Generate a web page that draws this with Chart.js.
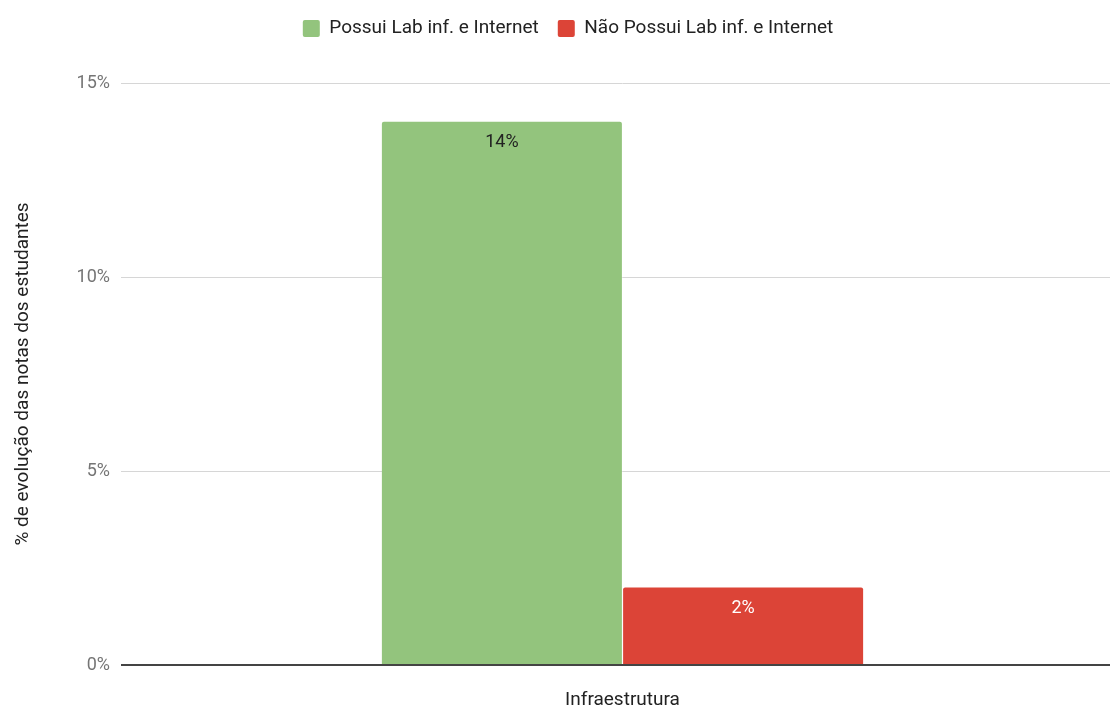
<!DOCTYPE html>
<html>
<head>
<meta charset="utf-8">
<script src="https://cdn.jsdelivr.net/npm/chart.js@4"></script>
<style>
  html, body { margin: 0; padding: 0; background: #fff; overflow: hidden; }
  #wrap { width: 1124px; height: 706px; }
</style>
</head>
<body>
<div id="wrap"><canvas id="evolucaoChart"></canvas></div>
<script>
const categorias = ['Infraestrutura'];
const seriesNomes = ['Possui Lab inf. e Internet', 'Não Possui Lab inf. e Internet'];
const possuiValores = [14];
const naoPossuiValores = [2];
const yTicks = [0, 5, 10, 15];

Chart.defaults.font.family = 'Roboto, "Noto Sans", sans-serif';

// rótulos de valor dentro do topo de cada barra
const rotulosBarras = {
    id: 'rotulosBarras',
    afterDatasetsDraw(chart) {
        const ctx = chart.ctx;
        ctx.save();
        ctx.font = '18px Roboto';
        ctx.textAlign = 'center';
        ctx.textBaseline = 'middle';
        chart.data.datasets.forEach((ds, i) => {
            chart.getDatasetMeta(i).data.forEach((bar, j) => {
                ctx.fillStyle = ds.labelColor;
                ctx.fillText(ds.data[j] + '%', bar.x, bar.y + 21);
            });
        });
        ctx.restore();
    }
};

// espaço extra entre a legenda e a área do gráfico
const margemLegenda = {
    id: 'margemLegenda',
    beforeInit(chart) {
        const fitOriginal = chart.legend.fit;
        chart.legend.fit = function () {
            fitOriginal.bind(chart.legend)();
            this.height += 35;
        };
    }
};

const ctx = document.getElementById('evolucaoChart').getContext('2d');
new Chart(ctx, {
    type: 'bar',
    data: {
        labels: categorias,
        datasets: [
            { label: seriesNomes[0], data: possuiValores, backgroundColor: '#93c47d', labelColor: '#222', borderRadius: { topLeft: 2, topRight: 2 }, borderSkipped: 'bottom' },
            { label: seriesNomes[1], data: naoPossuiValores, backgroundColor: '#dc4437', labelColor: '#fff', borderRadius: { topLeft: 2, topRight: 2 }, borderSkipped: 'bottom' }
        ]
    },
    options: {
        responsive: true,
        maintainAspectRatio: false,
        animation: false,
        layout: { padding: { top: 0, left: 12, right: 0, bottom: 0 } },
        datasets: { bar: { categoryPercentage: 0.481, barPercentage: 0.995 } },
        plugins: {
            legend: {
                position: 'top',
                labels: { color: '#222', font: { size: 19 }, boxWidth: 17, boxHeight: 17, useBorderRadius: true, borderRadius: 2, padding: 19 }
            },
            tooltip: { enabled: false }
        },
        scales: {
            x: {
                grid: { display: false },
                border: { display: false },
                ticks: { color: '#222', font: { size: 19 }, padding: 16 },
                afterFit: s => { s.height = 41; }
            },
            y: {
                min: 0,
                max: 15,
                afterBuildTicks: s => { s.ticks = yTicks.map(v => ({ value: v })); },
                ticks: { color: '#757575', font: { size: 18 }, padding: 11, callback: v => v + '%' },
                grid: {
                    drawTicks: false,
                    color: c => c.tick && c.tick.value === 0 ? '#444' : '#d6d6d6',
                    lineWidth: c => c.tick && c.tick.value === 0 ? 2 : 1
                },
                border: { display: false },
                title: { display: true, text: '% de evolução das notas dos estudantes', color: '#222', font: { size: 19 }, padding: 0 },
                afterFit: s => { s.width = 109; }
            }
        }
    },
    plugins: [rotulosBarras, margemLegenda]
});
</script>
</body>
</html>
